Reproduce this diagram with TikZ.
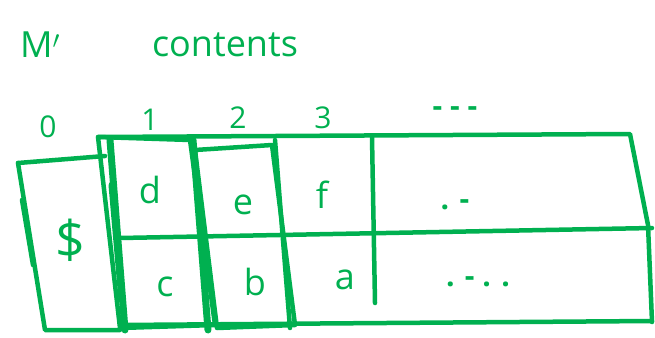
\documentclass[tikz,border=0pt]{standalone}
\usepackage{fontspec}
\setmainfont{Open Sans}
\definecolor{ink}{HTML}{00B050}
\begin{document}
\begin{tikzpicture}[x=1pt,y=-1pt,
  pen/.style={draw=ink,line width=4.5pt,line cap=round,line join=round},
  heavy/.style={draw=ink,line width=7pt,line cap=round},
  lbl/.style={text=ink,font=\fontsize{36}{38}\selectfont,inner sep=0pt},
  sml/.style={text=ink,font=\fontsize{30}{32}\selectfont,inner sep=0pt}]
\useasboundingbox (0,0) rectangle (655,337);
% titles
\node[lbl] (mp) at (40,45) {M$'$};
\node[lbl] (ct) at (225,45) {contents};
% indices
\node[sml] (i0) at (48,127) {0};
\node[sml] (i1) at (150,120) {1};
\node[sml] (i2) at (238,118) {2};
\node[sml] (i3) at (323,118) {3};
\node[sml,font=\fontsize{30}{32}\selectfont\bfseries] (i4) at (455,112) {- - -};
% main grid
\draw[pen] (98,137) -- (630,134) -- (648,225) -- (652,322);
\draw[pen] (120,325) -- (652,321);
\draw[pen] (120,238) -- (652,228);
\draw[pen] (372,137) -- (375,303);
\draw[pen] (275,140) -- (290,328);
% cell 0
\draw[pen] (18,163) -- (105,156);
\draw[pen] (18,163) -- (45,330) -- (120,330);
\draw[pen] (22,200) -- (33,265);
% highlighted column boxes
\draw[pen] (98,137) -- (120,328) -- (215,325) -- (190,140) -- cycle;
\draw[pen] (195,150) -- (217,328) -- (295,325) -- (272,145) -- cycle;
\draw[heavy] (110,140) -- (125,330);
\draw[heavy] (193,140) -- (208,330);
\draw[heavy] (112,185) -- (122,300);
% cell contents
\node[lbl] (cd) at (150,190) {d};
\node[lbl] (ce) at (243,205) {e};
\node[lbl] (cf) at (322,195) {f};
\node[text=ink,font=\fontsize{52}{54}\selectfont,inner sep=0pt] (cdollar) at (70,240) {\$};
\node[lbl] (cc) at (165,287) {c};
\node[lbl] (cb) at (255,282) {b};
\node[lbl] (ca) at (345,280) {a};
\node[sml,font=\fontsize{30}{32}\selectfont\bfseries] (dots1) at (455,205) {. -};
\node[sml,font=\fontsize{30}{32}\selectfont\bfseries] (dots2) at (478,282) {. - . .};
\end{tikzpicture}
\end{document}
